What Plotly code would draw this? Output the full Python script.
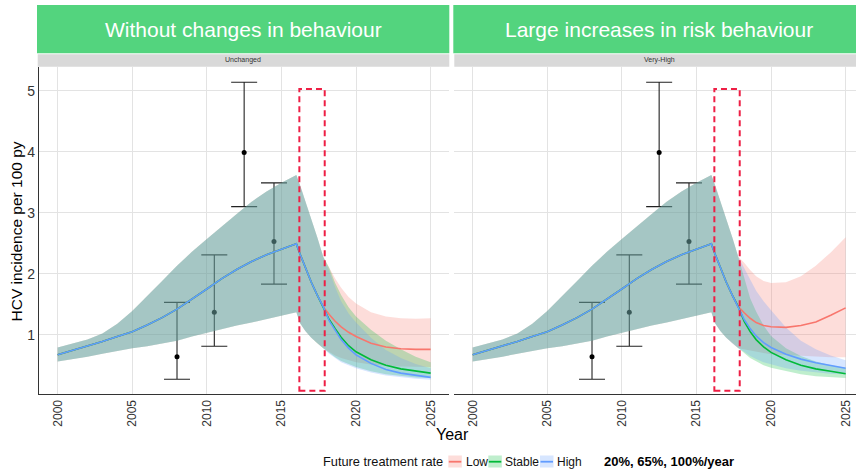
import plotly.graph_objects as go

# ---------------- data ----------------
PRE_YEARS = [2000, 2001, 2002, 2003, 2004, 2005, 2006, 2007, 2008, 2009, 2010,
             2011, 2012, 2013, 2014, 2015, 2016]
PRE_MID = [0.67, 0.74, 0.81, 0.89, 0.97, 1.05, 1.16, 1.28, 1.42, 1.58, 1.75,
           1.92, 2.07, 2.20, 2.31, 2.40, 2.49]
PRE_UP = [0.79, 0.85, 0.92, 1.02, 1.18, 1.39, 1.63, 1.88, 2.13, 2.36, 2.57,
          2.78, 2.98, 3.18, 3.35, 3.49, 3.62]
PRE_LO = [0.56, 0.60, 0.64, 0.69, 0.74, 0.78, 0.81, 0.85, 0.90, 0.97, 1.04,
          1.09, 1.15, 1.20, 1.26, 1.31, 1.37]

# shared decline right after 2016 (before scenarios diverge)
DROP_YEARS = [2016.25, 2016.6, 2017, 2017.4, 2017.8]
DROP_MID = [2.32, 2.10, 1.86, 1.65, 1.46]
DROP_UP = [3.45, 3.20, 2.92, 2.60, 2.28]
DROP_LO = [1.19, 1.06, 0.95, 0.86, 0.78]

FUT_YEARS = [2018.2, 2018.6, 2019, 2019.5, 2020, 2021, 2022, 2023, 2024, 2025]

# Panel 1: Unchanged behaviour
UNCH_LOW_MID = [1.33, 1.22, 1.13, 1.04, 0.97, 0.86, 0.80, 0.77, 0.76, 0.76]
UNCH_LOW_UP = [2.10, 1.92, 1.77, 1.62, 1.51, 1.37, 1.30, 1.27, 1.26, 1.27]
UNCH_LOW_LO = [0.72, 0.66, 0.62, 0.58, 0.55, 0.51, 0.49, 0.48, 0.47, 0.47]
UNCH_STA_MID = [1.25, 1.10, 0.96, 0.82, 0.72, 0.59, 0.50, 0.44, 0.40, 0.37]
UNCH_STA_UP = [2.10, 1.85, 1.65, 1.45, 1.30, 1.08, 0.90, 0.76, 0.64, 0.55]
UNCH_STA_LO = [0.70, 0.63, 0.57, 0.52, 0.47, 0.40, 0.35, 0.32, 0.30, 0.29]
UNCH_HIG_MID = [1.23, 1.07, 0.92, 0.78, 0.67, 0.53, 0.43, 0.37, 0.33, 0.30]
UNCH_HIG_UP = [2.05, 1.78, 1.55, 1.35, 1.20, 0.95, 0.75, 0.62, 0.52, 0.45]
UNCH_HIG_LO = [0.69, 0.62, 0.55, 0.50, 0.45, 0.38, 0.33, 0.30, 0.28, 0.26]

# Panel 2: Very-High risk behaviour
VH_LOW_MID = [1.36, 1.27, 1.20, 1.15, 1.13, 1.12, 1.15, 1.21, 1.32, 1.44]
VH_LOW_UP = [2.18, 2.06, 1.96, 1.88, 1.85, 1.86, 1.96, 2.13, 2.35, 2.60]
VH_LOW_LO = [0.76, 0.74, 0.72, 0.70, 0.68, 0.66, 0.65, 0.64, 0.63, 0.63]
VH_STA_MID = [1.22, 1.05, 0.92, 0.80, 0.71, 0.59, 0.50, 0.44, 0.40, 0.36]
VH_STA_UP = [1.95, 1.60, 1.38, 1.15, 0.98, 0.78, 0.65, 0.56, 0.50, 0.46]
VH_STA_LO = [0.70, 0.62, 0.56, 0.50, 0.46, 0.40, 0.35, 0.32, 0.30, 0.29]
VH_HIG_MID = [1.25, 1.10, 0.98, 0.87, 0.79, 0.68, 0.60, 0.54, 0.49, 0.45]
VH_HIG_UP = [2.10, 1.90, 1.72, 1.55, 1.40, 1.12, 0.90, 0.76, 0.66, 0.58]
VH_HIG_LO = [0.72, 0.65, 0.60, 0.55, 0.51, 0.45, 0.41, 0.38, 0.36, 0.35]

# observed incidence (point, lower, upper)
OBS_YEARS = [2008, 2010.5, 2012.5, 2014.5]
OBS_VAL = [0.64, 1.37, 3.99, 2.53]
OBS_LO = [0.27, 0.81, 3.10, 1.83]
OBS_UP = [1.53, 2.31, 5.14, 3.49]

SCENARIOS = ["Low", "Stable", "High"]
PANEL_TITLES = ["Without changes in behaviour", "Large increases in risk behaviour"]
PANEL_STRIPS = ["Unchanged", "Very-High"]
X_TICKS = [2000, 2005, 2010, 2015, 2020, 2025]
Y_TICKS = [1, 2, 3, 4, 5]
HIGHLIGHT = [2016.2, 2017.9, 0.08, 5.03]  # dashed box: x0, x1, y0, y1

# ---------------- styling ----------------
COLORS = {"Low": "#F8766D", "Stable": "#00BA38", "High": "#619CFF"}
FILLS = {"Low": "rgba(248,118,109,0.25)", "Stable": "rgba(0,186,56,0.25)",
         "High": "rgba(97,156,255,0.25)"}
FONT = "Liberation Sans, Arial, sans-serif"
W, H = 856, 473
ML, MR, MT, MB = 39, 0, 67, 79
PW, PH = W - ML - MR, H - MT - MB


def px2x(px):
    return (px - ML) / PW


def py2y(py):
    return (H - MB - py) / PH


panels = [
    {"Low": (UNCH_LOW_MID, UNCH_LOW_UP, UNCH_LOW_LO),
     "Stable": (UNCH_STA_MID, UNCH_STA_UP, UNCH_STA_LO),
     "High": (UNCH_HIG_MID, UNCH_HIG_UP, UNCH_HIG_LO)},
    {"Low": (VH_LOW_MID, VH_LOW_UP, VH_LOW_LO),
     "Stable": (VH_STA_MID, VH_STA_UP, VH_STA_LO),
     "High": (VH_HIG_MID, VH_HIG_UP, VH_HIG_LO)},
]

fig = go.Figure()
years_all = PRE_YEARS + DROP_YEARS + FUT_YEARS

for i, pdata in enumerate(panels):
    xa = "x" if i == 0 else "x2"
    ya = "y" if i == 0 else "y2"
    # observed data with error bars (underneath ribbons)
    fig.add_trace(go.Scatter(
        x=OBS_YEARS, y=OBS_VAL, mode="markers", xaxis=xa, yaxis=ya,
        marker=dict(color="black", size=5),
        error_y=dict(type="data", symmetric=False,
                     array=[u - v for u, v in zip(OBS_UP, OBS_VAL)],
                     arrayminus=[v - l for v, l in zip(OBS_VAL, OBS_LO)],
                     color="#222", thickness=1.1, width=13),
        showlegend=False, hoverinfo="skip"))
    # ribbons
    for s in SCENARIOS:
        mid, up, lo = pdata[s]
        ups = PRE_UP + DROP_UP + up
        los = PRE_LO + DROP_LO + lo
        fig.add_trace(go.Scatter(
            x=years_all + years_all[::-1], y=ups + los[::-1],
            fill="toself", fillcolor=FILLS[s], line=dict(width=0),
            mode="lines", xaxis=xa, yaxis=ya, showlegend=False, hoverinfo="skip"))
    # lines
    for s in SCENARIOS:
        mid, up, lo = pdata[s]
        fig.add_trace(go.Scatter(
            x=years_all, y=PRE_MID + DROP_MID + mid, mode="lines",
            line=dict(color=COLORS[s], width=1.6), xaxis=xa, yaxis=ya,
            showlegend=False, hoverinfo="skip"))

# ---------------- axes ----------------
px_per_year = 410.3 / 27.5
x_lo = 1998.75
axis_common = dict(
    showgrid=True, gridcolor="#E3E3E3", gridwidth=1.2, zeroline=False,
    ticks="", tickfont=dict(family=FONT, size=12, color="#333"),
)
fig.update_layout(
    xaxis=dict(domain=[0, px2x(449.3)], range=[x_lo, 2026.25], tickvals=X_TICKS,
               tickangle=-90, showline=True, linecolor="#333", linewidth=1.3,
               anchor="y", **axis_common),
    xaxis2=dict(domain=[px2x(454), 1],
                range=[x_lo, x_lo + (W - 454) / px_per_year], tickvals=X_TICKS,
                tickangle=-90, showline=True, linecolor="#333", linewidth=1.3,
                anchor="y2", **axis_common),
    yaxis=dict(domain=[0, 1], range=[0.028, 5.39], tickvals=Y_TICKS,
               showline=True, linecolor="#333", linewidth=1.3,
               **{**axis_common, "tickfont": dict(family=FONT, size=14, color="#333")}),
    yaxis2=dict(domain=[0, 1], range=[0.028, 5.39], tickvals=Y_TICKS,
                showticklabels=False, showline=False, anchor="x2", **axis_common),
)

shapes = []
annotations = []
# panel headers and strips
header_x = [(37, 449.3), (453.3, W + 2)]
strip_x = [(37.7, 449.3), (454.3, W + 2)]
title_cx = [(37 + 449.3) / 2, (453.3 + 865) / 2]
for i in range(2):
    shapes.append(dict(type="rect", xref="paper", yref="paper",
                       x0=px2x(header_x[i][0]), x1=px2x(header_x[i][1]),
                       y0=py2y(53.3), y1=py2y(5), fillcolor="#53D47E",
                       line=dict(width=0), layer="above"))
    shapes.append(dict(type="rect", xref="paper", yref="paper",
                       x0=px2x(strip_x[i][0]), x1=px2x(strip_x[i][1]),
                       y0=py2y(66.8), y1=py2y(54.3), fillcolor="#D9D9D9",
                       line=dict(width=0), layer="above"))
    annotations.append(dict(text=PANEL_TITLES[i], xref="paper", yref="paper",
                            x=px2x(title_cx[i]), y=py2y(29.5), showarrow=False,
                            xanchor="center", yanchor="middle",
                            font=dict(family=FONT, size=21, color="white")))
    annotations.append(dict(text=PANEL_STRIPS[i], xref="paper", yref="paper",
                            x=px2x(title_cx[i]), y=py2y(60.5), showarrow=False,
                            xanchor="center", yanchor="middle",
                            font=dict(family=FONT, size=7, color="#333")))
    # dashed highlight box
    xr = "x" if i == 0 else "x2"
    yr = "y" if i == 0 else "y2"
    shapes.append(dict(type="rect", xref=xr, yref=yr,
                       x0=HIGHLIGHT[0], x1=HIGHLIGHT[1], y0=HIGHLIGHT[2], y1=HIGHLIGHT[3],
                       line=dict(color="#EE1F45", width=2, dash="6px,4px"),
                       fillcolor="rgba(0,0,0,0)", layer="above"))

# axis titles
annotations.append(dict(text="Year", xref="paper", yref="paper", x=px2x(452),
                        y=py2y(434), showarrow=False, xanchor="center",
                        yanchor="middle", font=dict(family=FONT, size=16, color="black")))
annotations.append(dict(text="HCV incidence per 100 py", xref="paper", yref="paper",
                        x=px2x(16), y=py2y(231.5), showarrow=False, textangle=-90,
                        xanchor="center", yanchor="middle",
                        font=dict(family=FONT, size=15.5, color="black")))

# legend (manual)
leg_y = 461.7
annotations.append(dict(text="Future treatment rate", xref="paper", yref="paper",
                        x=px2x(444.5), y=py2y(leg_y), showarrow=False,
                        xanchor="right", yanchor="middle",
                        font=dict(family=FONT, size=12.8, color="#111")))
key_x = [448.3, 488.3, 540]
lab_x = [464, 503, 555.3]
for s, kx, lx in zip(SCENARIOS, key_x, lab_x):
    shapes.append(dict(type="rect", xref="paper", yref="paper",
                       x0=px2x(kx), x1=px2x(kx + 13.5), y0=py2y(467.5), y1=py2y(455.5),
                       fillcolor=FILLS[s], line=dict(width=0)))
    shapes.append(dict(type="line", xref="paper", yref="paper",
                       x0=px2x(kx + 0.5), x1=px2x(kx + 13), y0=py2y(leg_y), y1=py2y(leg_y),
                       line=dict(color=COLORS[s], width=1.8)))
    annotations.append(dict(text=s, xref="paper", yref="paper", x=px2x(lx),
                            y=py2y(leg_y), showarrow=False, xanchor="left",
                            yanchor="middle",
                            font=dict(family=FONT, size=12, color="#111")))
annotations.append(dict(text="<b>20%, 65%, 100%/year</b>", xref="paper", yref="paper",
                        x=px2x(601.5), y=py2y(leg_y), showarrow=False, xanchor="left",
                        yanchor="middle", font=dict(family=FONT, size=13, color="black")))

fig.update_layout(
    width=W, height=H, margin=dict(l=ML, r=MR, t=MT, b=MB, pad=0),
    paper_bgcolor="white", plot_bgcolor="white", showlegend=False,
    shapes=shapes, annotations=annotations,
    font=dict(family=FONT),
)

fig.write_html(
    "out.html",
    config={"displayModeBar": False},
    post_script="document.body.style.margin='0';document.body.style.overflow='hidden';",
)
